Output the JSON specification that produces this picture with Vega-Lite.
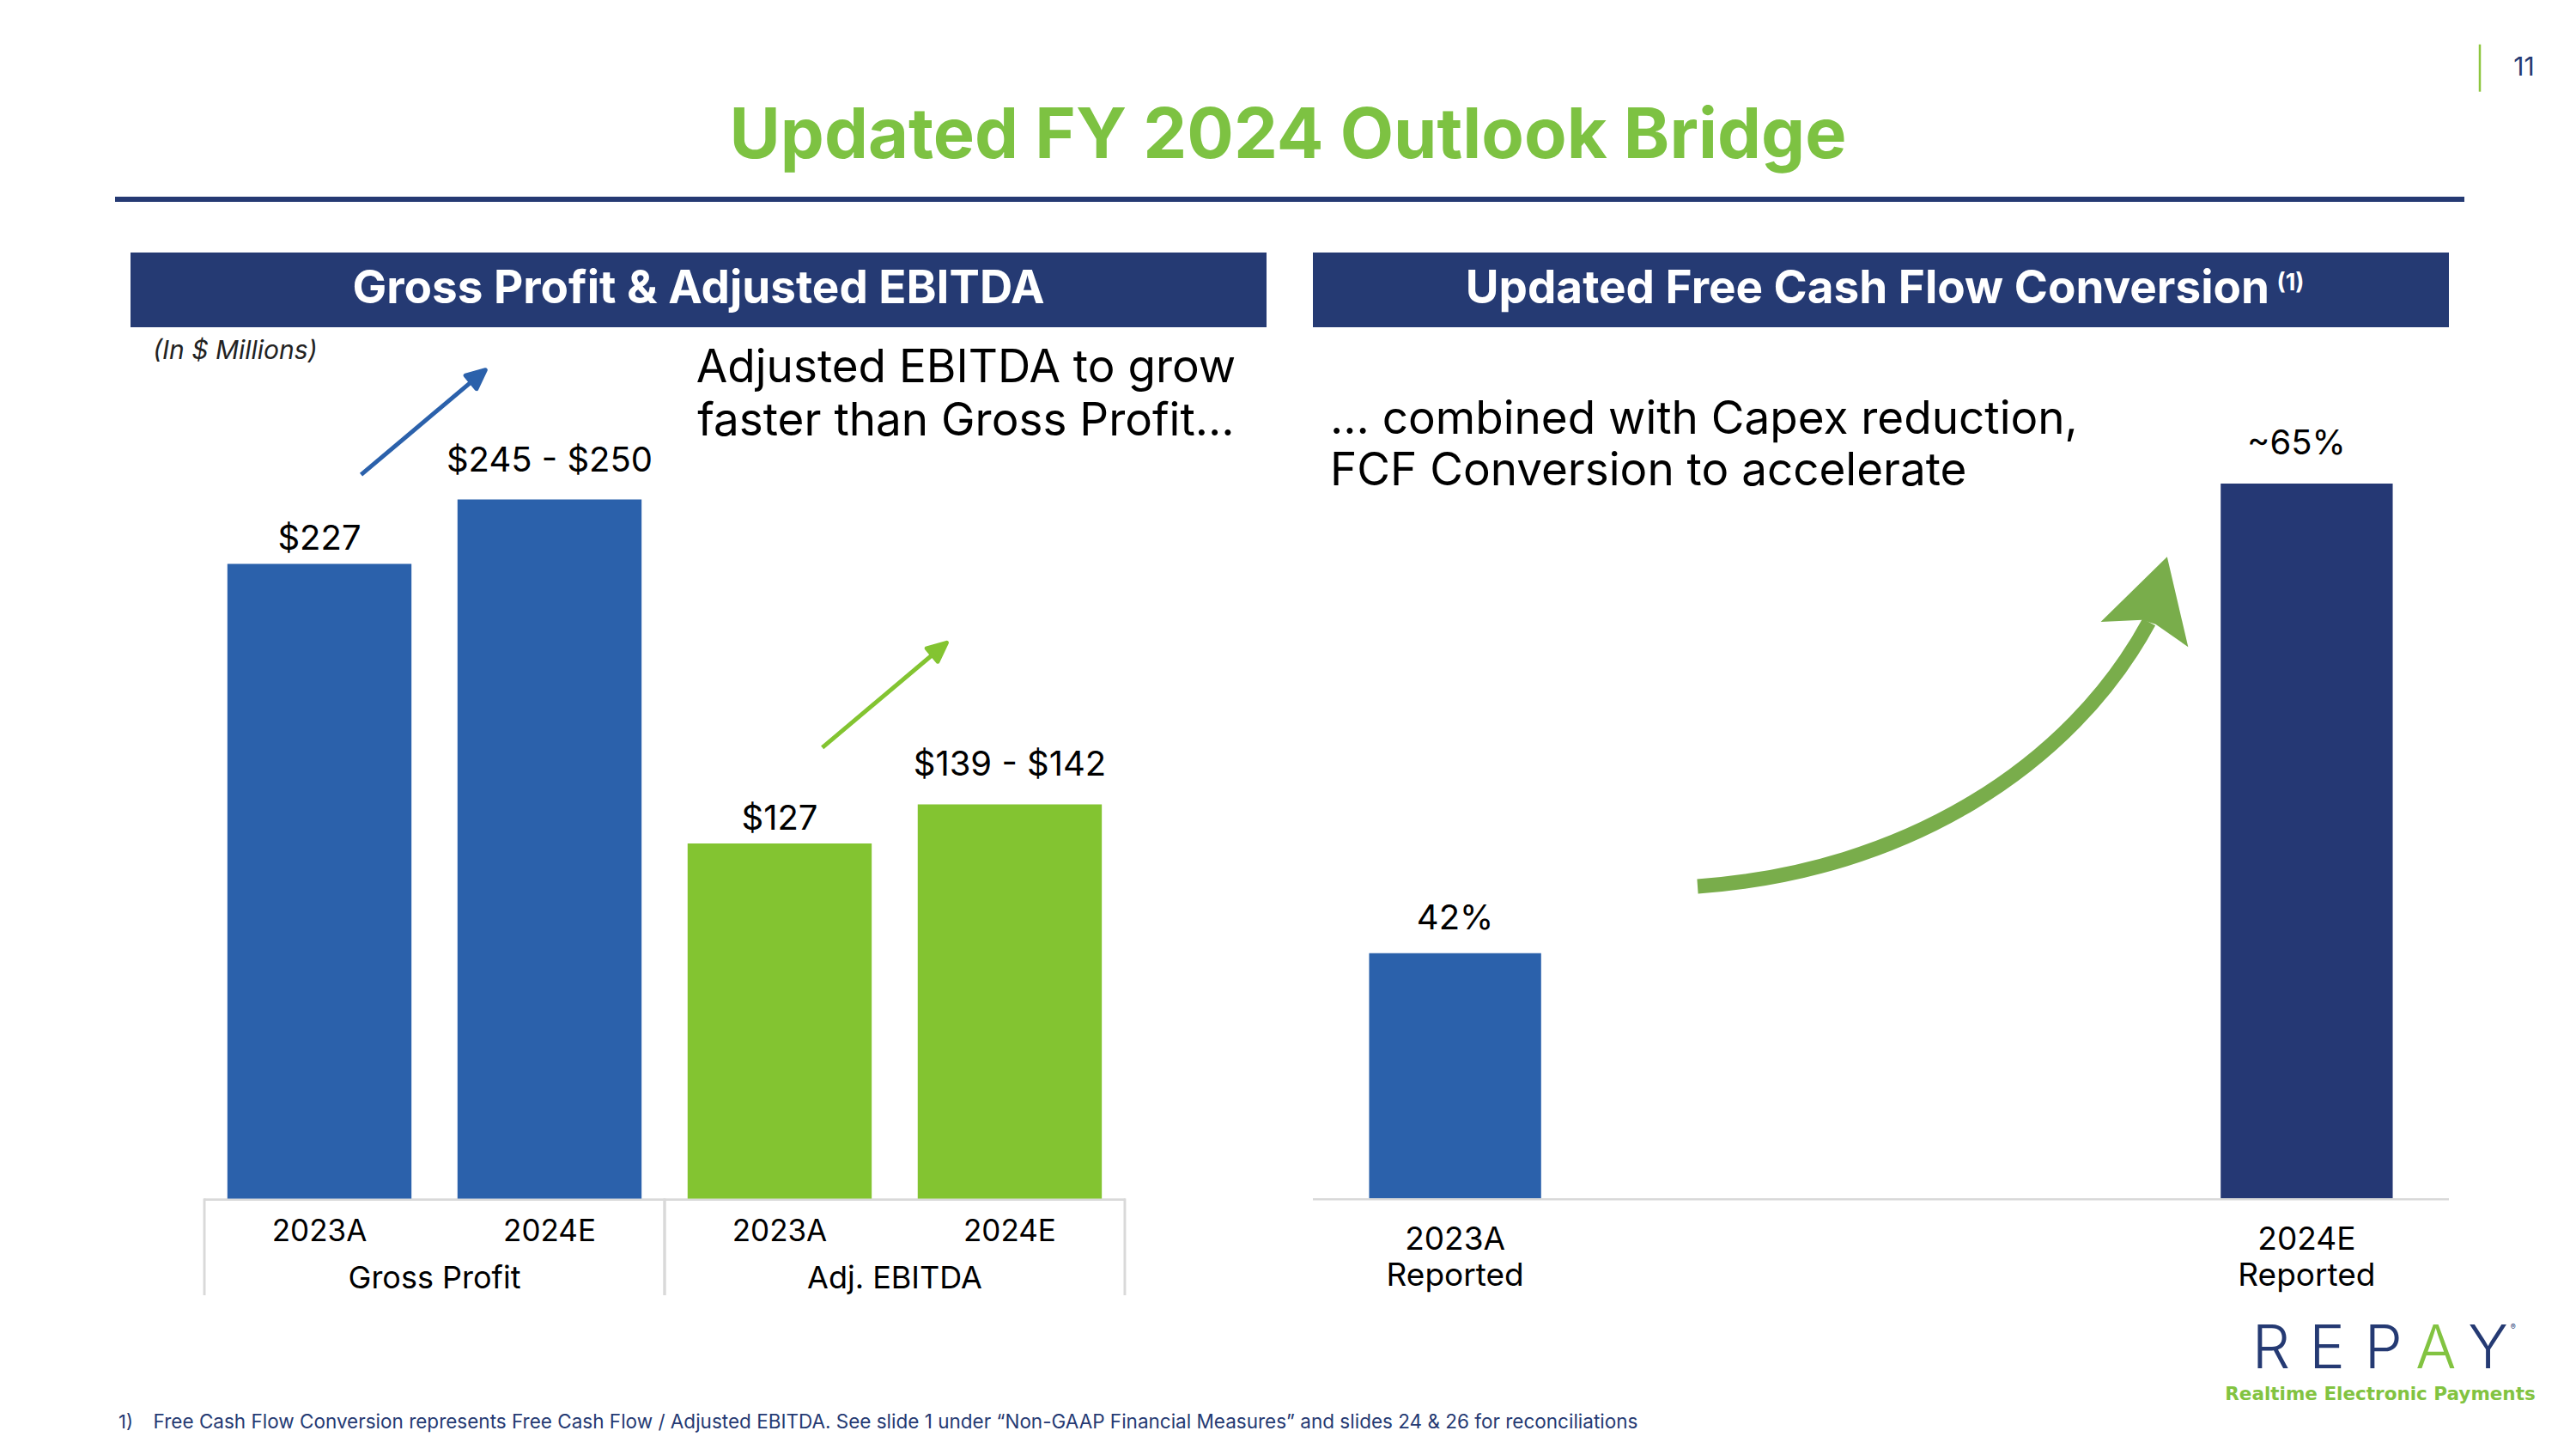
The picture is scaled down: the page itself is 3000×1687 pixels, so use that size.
{
  "$schema": "https://vega.github.io/schema/vega-lite/v6.json",
  "background": "white",
  "padding": {"left": 37, "top": 0, "right": 0, "bottom": 0},
  "config": {"view": {"stroke": null}, "font": "Inter", "text": {"font": "Inter", "color": "#000000"}},
  "datasets": {
    "left": [
      {"metric": "Gross Profit", "period": "2023A", "value": 227, "label": "$227"},
      {"metric": "Gross Profit", "period": "2024E", "value": 250, "label": "$245 - $250"},
      {"metric": "Adj. EBITDA", "period": "2023A", "value": 127, "label": "$127"},
      {"metric": "Adj. EBITDA", "period": "2024E", "value": 141, "label": "$139 - $142"}
    ],
    "right": [
      {"period": "2023A", "basis": "Reported", "value": 42, "label": "42%"},
      {"period": "2024E", "basis": "Reported", "value": 65, "label": "~65%"}
    ]
  },
  "spacing": 0,
  "center": true,
  "vconcat": [
    {
      "width": 2910,
      "height": 229,
      "data": {"values": [{}]},
      "layer": [
        {"mark": {"type": "text", "text": "Updated FY 2024 Outlook Bridge", "fontWeight": "bold", "fontSize": 81, "color": "#7DC242", "align": "center", "baseline": "alphabetic", "dx": -2, "dy": 69.8}},
        {"mark": {"type": "text", "text": "11", "fontSize": 30, "color": "#253A73", "align": "center", "baseline": "alphabetic", "dx": 1437.5, "dy": -26.5}},
        {"mark": {"type": "point", "shape": "M0,-1L0,1", "size": 3025, "filled": false, "stroke": "#8DC63F", "strokeWidth": 2.5, "opacity": 1, "xOffset": 1386, "yOffset": -35.3}}
      ]
    },
    {
      "spacing": 59,
      "center": true,
      "vconcat": [
        {"width": 2736, "height": 6, "data": {"values": [{}]}, "mark": {"type": "rect", "color": "#253A73"}, "encoding": {}},
        {
          "spacing": 54,
          "hconcat": [
            {
              "width": 1323,
              "height": 87,
              "data": {"values": [{}]},
              "layer": [
                {"mark": {"type": "rect", "color": "#253A73"}, "encoding": {}},
                {"mark": {"type": "text", "text": "Gross Profit & Adjusted EBITDA", "fontWeight": "bold", "fontSize": 53, "color": "white", "align": "center", "baseline": "alphabetic", "dy": 15}}
              ]
            },
            {
              "width": 1323,
              "height": 87,
              "data": {"values": [{}]},
              "layer": [
                {"mark": {"type": "rect", "color": "#253A73"}, "encoding": {}},
                {"mark": {"type": "text", "text": "Updated Free Cash Flow Conversion", "fontWeight": "bold", "fontSize": 53, "color": "white", "align": "right", "baseline": "alphabetic", "dx": 452.5, "dy": 15}},
                {"mark": {"type": "text", "text": "(1)", "fontWeight": "bold", "fontSize": 27, "color": "white", "align": "left", "baseline": "alphabetic", "dx": 461, "dy": 0}}
              ]
            }
          ]
        }
      ]
    },
    {
      "spacing": 54,
      "resolve": {"scale": {"color": "independent"}},
      "hconcat": [
        {
          "width": 1323,
          "height": 1127,
          "resolve": {"scale": {"x": "independent"}},
          "layer": [
            {
              "data": {"name": "left"},
              "encoding": {
                "x": {"field": "metric", "type": "nominal", "sort": ["Gross Profit", "Adj. EBITDA"], "scale": {"domain": ["Gross Profit", "Adj. EBITDA"], "paddingInner": 0, "paddingOuter": 0.2342, "align": 0.3426}, "axis": null}
              },
              "layer": [
                {
                  "mark": {"type": "rect", "color": "#D9D9D9"},
                  "encoding": {
                    "y": {"datum": 0, "type": "quantitative", "scale": {"domain": [-34.56, 311.6], "nice": false, "zero": false}, "axis": null},
                    "y2": {"datum": -0.8}
                  }
                },
                {
                  "mark": {"type": "rule", "color": "#D9D9D9", "strokeWidth": 2.5},
                  "encoding": {
                    "x": {"field": "metric", "type": "nominal", "sort": ["Gross Profit", "Adj. EBITDA"], "bandPosition": 0, "axis": null},
                    "y": {"datum": 0, "type": "quantitative", "axis": null},
                    "y2": {"datum": -34.56}
                  }
                },
                {
                  "mark": {"type": "rule", "color": "#D9D9D9", "strokeWidth": 2.5},
                  "encoding": {
                    "x": {"field": "metric", "type": "nominal", "sort": ["Gross Profit", "Adj. EBITDA"], "bandPosition": 1, "axis": null},
                    "y": {"datum": 0, "type": "quantitative", "axis": null},
                    "y2": {"datum": -34.56}
                  }
                },
                {
                  "mark": {"type": "bar"},
                  "encoding": {
                    "xOffset": {"field": "period", "type": "nominal", "sort": ["2023A", "2024E"], "scale": {"paddingInner": 0.2, "paddingOuter": 0.1}},
                    "y": {"field": "value", "type": "quantitative", "axis": null},
                    "color": {"field": "metric", "type": "nominal", "scale": {"domain": ["Gross Profit", "Adj. EBITDA"], "range": ["#2B61AB", "#83C431"]}, "legend": null}
                  }
                },
                {
                  "transform": [{"filter": "datum.period === '2023A'"}],
                  "mark": {"type": "text", "fontSize": 40, "align": "center", "baseline": "alphabetic", "dy": -16},
                  "encoding": {
                    "xOffset": {"field": "period", "type": "nominal", "sort": ["2023A", "2024E"]},
                    "y": {"field": "value", "type": "quantitative", "axis": null},
                    "text": {"field": "label", "type": "nominal"}
                  }
                },
                {
                  "transform": [{"filter": "datum.period === '2024E'"}],
                  "mark": {"type": "text", "fontSize": 40, "align": "center", "baseline": "alphabetic", "dy": -33},
                  "encoding": {
                    "xOffset": {"field": "period", "type": "nominal", "sort": ["2023A", "2024E"]},
                    "y": {"field": "value", "type": "quantitative", "axis": null},
                    "text": {"field": "label", "type": "nominal"}
                  }
                },
                {
                  "mark": {"type": "text", "fontSize": 35, "align": "center", "baseline": "alphabetic", "dy": 49.5},
                  "encoding": {
                    "xOffset": {"field": "period", "type": "nominal", "sort": ["2023A", "2024E"]},
                    "y": {"datum": 0, "type": "quantitative", "axis": null},
                    "text": {"field": "period", "type": "nominal"}
                  }
                },
                {
                  "transform": [{"filter": "datum.period === '2023A'"}],
                  "mark": {"type": "text", "fontSize": 36, "align": "center", "baseline": "alphabetic", "dy": 105},
                  "encoding": {
                    "y": {"datum": 0, "type": "quantitative", "axis": null},
                    "text": {"field": "metric", "type": "nominal"}
                  }
                }
              ]
            },
            {
              "data": {"values": [{}]},
              "mark": {"type": "text", "text": "(In $ Millions)", "fontSize": 30, "fontStyle": "italic", "color": "#222222", "align": "left", "baseline": "alphabetic"},
              "encoding": {
                "x": {"datum": 0.0197, "type": "quantitative", "scale": {"domain": [0, 1], "nice": false, "zero": false}, "axis": null},
                "y": {"datum": 300.2, "type": "quantitative", "axis": null}
              }
            },
            {
              "data": {"values": [{}]},
              "mark": {"type": "text", "text": ["Adjusted EBITDA to grow", "faster than Gross Profit…"], "fontSize": 53, "lineHeight": 61.7, "align": "center", "baseline": "alphabetic"},
              "encoding": {
                "x": {"datum": 0.7354, "type": "quantitative", "scale": {"domain": [0, 1], "nice": false, "zero": false}, "axis": null},
                "y": {"datum": 291.95, "type": "quantitative", "axis": null}
              }
            },
            {
              "data": {"values": [{}]},
              "mark": {"type": "point", "shape": "M-0.724,0.61L0.556,-0.468M0.724,-0.61L0.62,-0.391L0.492,-0.545Z", "size": 40000, "filled": true, "fill": "#2B61AB", "stroke": "#2B61AB", "strokeWidth": 5, "strokeJoin": "round", "opacity": 1},
              "encoding": {
                "x": {"datum": 0.2577, "type": "quantitative", "scale": {"domain": [0, 1], "nice": false, "zero": false}, "axis": null},
                "y": {"datum": 277.6, "type": "quantitative", "axis": null}
              }
            },
            {
              "data": {"values": [{}]},
              "mark": {"type": "point", "shape": "M-0.724,0.61L0.556,-0.468M0.724,-0.61L0.62,-0.391L0.492,-0.545Z", "size": 40000, "filled": true, "fill": "#83C431", "stroke": "#83C431", "strokeWidth": 5, "strokeJoin": "round", "opacity": 1},
              "encoding": {
                "x": {"datum": 0.6637, "type": "quantitative", "scale": {"domain": [0, 1], "nice": false, "zero": false}, "axis": null},
                "y": {"datum": 180.05, "type": "quantitative", "axis": null}
              }
            }
          ]
        },
        {
          "width": 1323,
          "height": 1127,
          "resolve": {"scale": {"x": "independent"}},
          "layer": [
            {
              "data": {"values": [{}]},
              "mark": {"type": "rect", "color": "#D9D9D9"},
              "encoding": {
                "y": {"datum": 30, "type": "quantitative", "scale": {"domain": [25.246, 72.66], "nice": false, "zero": false}, "axis": null},
                "y2": {"datum": 29.9}
              }
            },
            {
              "data": {"name": "right"},
              "encoding": {
                "x": {"field": "period", "type": "nominal", "sort": ["2023A", "2024E"], "scale": {"domain": ["2023A", "2024E"], "paddingInner": 0.798, "paddingOuter": 0.066}, "axis": null}
              },
              "layer": [
                {
                  "mark": {"type": "bar"},
                  "encoding": {
                    "y": {"field": "value", "type": "quantitative", "axis": null},
                    "y2": {"datum": 30},
                    "color": {"field": "period", "type": "nominal", "scale": {"domain": ["2023A", "2024E"], "range": ["#2B61AB", "#253874"]}, "legend": null}
                  }
                },
                {
                  "transform": [{"filter": "datum.period === '2023A'"}],
                  "mark": {"type": "text", "fontSize": 40, "align": "center", "baseline": "alphabetic", "dy": -28},
                  "encoding": {
                    "y": {"field": "value", "type": "quantitative", "axis": null},
                    "text": {"field": "label", "type": "nominal"}
                  }
                },
                {
                  "transform": [{"filter": "datum.period === '2024E'"}],
                  "mark": {"type": "text", "fontSize": 40, "align": "center", "baseline": "alphabetic", "dy": -34, "dx": -12},
                  "encoding": {
                    "y": {"field": "value", "type": "quantitative", "axis": null},
                    "text": {"field": "label", "type": "nominal"}
                  }
                },
                {
                  "mark": {"type": "text", "fontSize": 37, "align": "center", "baseline": "alphabetic", "dy": 60},
                  "encoding": {
                    "y": {"datum": 30, "type": "quantitative", "axis": null},
                    "text": {"field": "period", "type": "nominal"}
                  }
                },
                {
                  "mark": {"type": "text", "fontSize": 37, "align": "center", "baseline": "alphabetic", "dy": 101.7},
                  "encoding": {
                    "y": {"datum": 30, "type": "quantitative", "axis": null},
                    "text": {"field": "basis", "type": "nominal"}
                  }
                }
              ]
            },
            {
              "data": {"values": [{}]},
              "mark": {"type": "text", "text": ["… combined with Capex reduction,", "FCF Conversion to accelerate"], "fontSize": 53, "lineHeight": 60, "align": "left", "baseline": "alphabetic"},
              "encoding": {
                "x": {"datum": 0.0151, "type": "quantitative", "scale": {"domain": [0, 1], "nice": false, "zero": false}, "axis": null},
                "y": {"datum": 67.44, "type": "quantitative", "axis": null}
              }
            },
            {
              "data": {"values": [{}]},
              "mark": {"type": "point", "shape": "M-0.9467,0.6233C-0.14,0.5667 0.5033,0.1567 0.8053,-0.4027", "size": 360000, "filled": false, "fill": null, "stroke": "#79AD4B", "strokeWidth": 17, "strokeCap": "butt", "opacity": 1},
              "encoding": {
                "x": {"datum": 0.5533, "type": "quantitative", "scale": {"domain": [0, 1], "nice": false, "zero": false}, "axis": null},
                "y": {"datum": 53.14, "type": "quantitative", "axis": null}
              }
            },
            {
              "data": {"values": [{}]},
              "mark": {"type": "point", "shape": "M0.876,-0.6557L0.9577,-0.3057L0.8313,-0.3943L0.7793,-0.411L0.6183,-0.4033Z", "size": 360000, "filled": true, "fill": "#79AD4B", "strokeWidth": 0, "opacity": 1},
              "encoding": {
                "x": {"datum": 0.5533, "type": "quantitative", "scale": {"domain": [0, 1], "nice": false, "zero": false}, "axis": null},
                "y": {"datum": 53.14, "type": "quantitative", "axis": null}
              }
            }
          ]
        }
      ]
    },
    {
      "width": 2930,
      "height": 179,
      "data": {"values": [{}]},
      "layer": [
        {"mark": {"type": "text", "text": "1)", "fontSize": 22, "color": "#253A73", "align": "left", "baseline": "alphabetic", "dx": -1364, "dy": 63.5}},
        {"mark": {"type": "text", "text": "Free Cash Flow Conversion represents Free Cash Flow / Adjusted EBITDA. See slide 1 under “Non-GAAP Financial Measures” and slides 24 & 26 for reconciliations", "fontSize": 22.5, "color": "#253A73", "align": "left", "baseline": "alphabetic", "dx": -1323.4, "dy": 63.5}},
        {"mark": {"type": "text", "text": "R", "fontSize": 70, "fontWeight": 300, "color": "#253A73", "align": "center", "baseline": "alphabetic", "dx": 1143, "dy": -6.8}},
        {"mark": {"type": "text", "text": "E", "fontSize": 70, "fontWeight": 300, "color": "#253A73", "align": "center", "baseline": "alphabetic", "dx": 1208, "dy": -6.8}},
        {"mark": {"type": "text", "text": "P", "fontSize": 70, "fontWeight": 300, "color": "#253A73", "align": "center", "baseline": "alphabetic", "dx": 1273.8, "dy": -6.8}},
        {"mark": {"type": "text", "text": "A", "fontSize": 70, "fontWeight": 300, "color": "#82C341", "align": "center", "baseline": "alphabetic", "dx": 1334.7, "dy": -6.8}},
        {"mark": {"type": "text", "text": "Y", "fontSize": 70, "fontWeight": 300, "color": "#253A73", "align": "center", "baseline": "alphabetic", "dx": 1395.5, "dy": -6.8}},
        {"mark": {"type": "text", "text": "®", "fontSize": 9, "color": "#253A73", "align": "center", "baseline": "alphabetic", "dx": 1424.7, "dy": -51.5}},
        {"mark": {"type": "text", "text": "Realtime Electronic Payments", "font": "DejaVu Sans", "fontSize": 21.5, "fontWeight": "bold", "color": "#82C341", "align": "center", "baseline": "alphabetic", "dx": 1270, "dy": 30.8}}
      ]
    }
  ]
}
